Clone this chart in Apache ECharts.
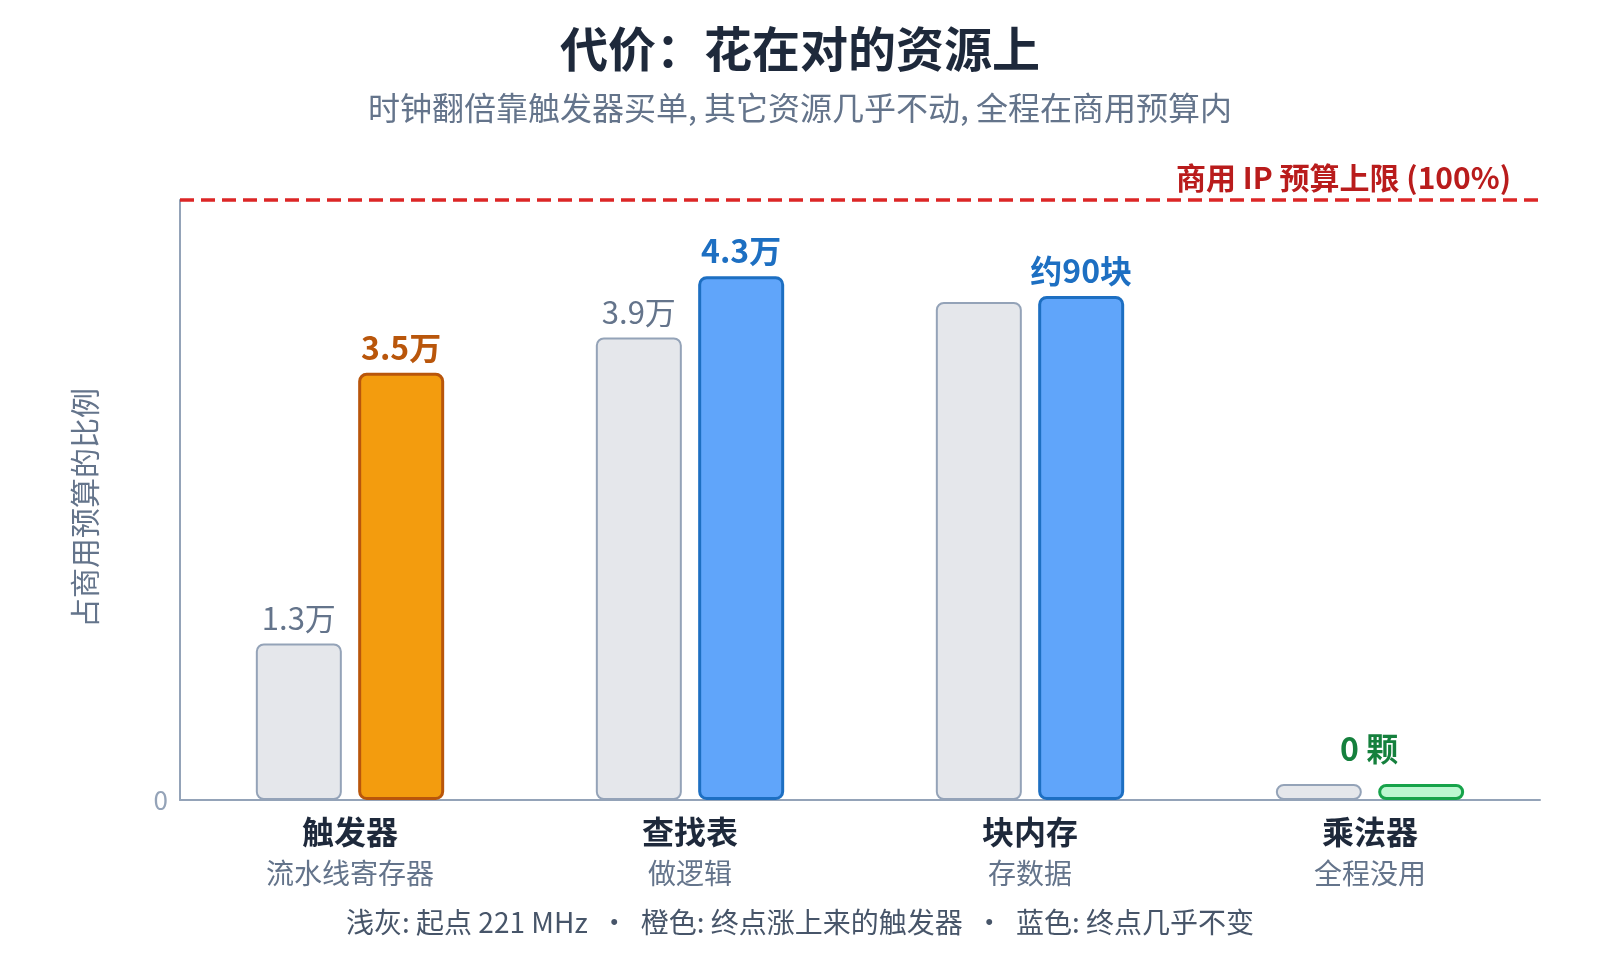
<!DOCTYPE html>
<html>
<head>
<meta charset="utf-8">
<script src="https://cdn.jsdelivr.net/npm/echarts@6/dist/echarts.min.js"></script>
<style>
html,body{margin:0;padding:0;background:#fff;}
#c{width:1600px;height:960px;}
</style>
</head>
<body>
<div id="c"></div>
<script>
const categories = ['触发器', '查找表', '块内存', '乘法器'];
const categorySubs = ['流水线寄存器', '做逻辑', '存数据', '全程没用'];
// share of commercial IP budget (%)
const startShare = [26.1, 77.1, 83.0, 0];
const endShare = [71.2, 87.3, 84.0, 0];
const startLabels = ['1.3万', '3.9万', '', ''];
const endLabels = ['3.5万', '4.3万', '约90块', '0 颗'];
const budgetLimit = 100;
const yTicks = ['0'];

const FONT = '"Noto Sans CJK SC", "Noto Sans", sans-serif';
const endStyles = [
  {fill: '#f39c0e', border: '#b9560b', text: '#b9560b'},
  {fill: '#60a5fa', border: '#1d6fc2', text: '#1d6fc2'},
  {fill: '#60a5fa', border: '#1d6fc2', text: '#1d6fc2'},
  {fill: '#bbf7d0', border: '#16a34a', text: '#15803d'}
];

const chart = echarts.init(document.getElementById('c'));
chart.setOption({
  backgroundColor: '#ffffff',
  animation: false,
  title: [
    {text: '代价：花在对的资源上', left: 'center', top: 16,
     textStyle: {fontFamily: FONT, fontSize: 48, fontWeight: 'bold', color: '#1e293b', lineHeight: 56}},
    {text: '时钟翻倍靠触发器买单, 其它资源几乎不动, 全程在商用预算内', left: 'center', top: 83,
     textStyle: {fontFamily: FONT, fontSize: 32, fontWeight: 'normal', color: '#64748b', lineHeight: 40}},
    {text: '浅灰: 起点 221 MHz  ·  橙色: 终点涨上来的触发器  ·  蓝色: 终点几乎不变', left: 'center', top: 900,
     textStyle: {fontFamily: FONT, fontSize: 28, fontWeight: 'normal', color: '#475569', lineHeight: 34}}
  ],
  grid: {left: 180, right: 60, top: 200, bottom: 160, containLabel: false},
  xAxis: {
    type: 'category',
    data: categories,
    axisLine: {show: true, lineStyle: {color: '#94a3b8', width: 2}},
    axisTick: {show: false},
    axisLabel: {
      margin: 12,
      formatter: (v, i) => '{a|' + v + '}\n{b|' + categorySubs[i] + '}',
      rich: {
        a: {fontFamily: FONT, fontSize: 32, fontWeight: 'bold', color: '#1e293b', lineHeight: 40},
        b: {fontFamily: FONT, fontSize: 28, color: '#64748b', lineHeight: 42}
      }
    }
  },
  yAxis: {
    type: 'value', min: 0, max: budgetLimit, interval: budgetLimit,
    name: '占商用预算的比例', nameLocation: 'middle', nameGap: 80, nameRotate: 90,
    nameTextStyle: {fontFamily: FONT, fontSize: 30, color: '#64748b', padding: [0, 16, 0, 0]},
    axisLine: {show: true, lineStyle: {color: '#94a3b8', width: 2}},
    axisTick: {show: false},
    splitLine: {show: false},
    axisLabel: {margin: 12, fontFamily: FONT, fontSize: 26, color: '#94a3b8',
      formatter: (v) => (v === 0 ? yTicks[0] : '')}
  },
  series: [
    {
      name: '起点', type: 'bar', barWidth: 86, barGap: '19%', barMinHeight: 16,
      data: startShare.map((v, i) => ({
        value: v,
        label: {show: startLabels[i] !== '', formatter: startLabels[i]}
      })),
      itemStyle: {color: '#e5e7eb', borderColor: '#94a3b8', borderWidth: 2, borderRadius: 7},
      label: {position: 'top', distance: 10, fontFamily: FONT, fontSize: 31, color: '#64748b'},
      markLine: {
        silent: true, symbol: 'none',
        data: [{yAxis: budgetLimit}],
        lineStyle: {color: '#dc2626', width: 3.5, type: [14, 7]},
        label: {position: 'insideEndTop', formatter: '商用 IP 预算上限 (100%)', distance: 7,
          padding: [0, 22, 0, 0],
          fontFamily: FONT, fontSize: 30, fontWeight: 'bold', color: '#b91c1c'}
      }
    },
    {
      name: '终点', type: 'bar', barWidth: 86, barMinHeight: 16,
      data: endShare.map((v, i) => ({
        value: v,
        itemStyle: {color: endStyles[i].fill, borderColor: endStyles[i].border},
        label: i === 3
          ? {formatter: endLabels[i], color: endStyles[i].text, offset: [-52, -10]}
          : {formatter: endLabels[i], color: endStyles[i].text}
      })),
      itemStyle: {borderWidth: 3, borderRadius: 7},
      label: {show: true, position: 'top', distance: 9, fontFamily: FONT, fontSize: 32, fontWeight: 'bold'}
    }
  ]
});
</script>
</body>
</html>
